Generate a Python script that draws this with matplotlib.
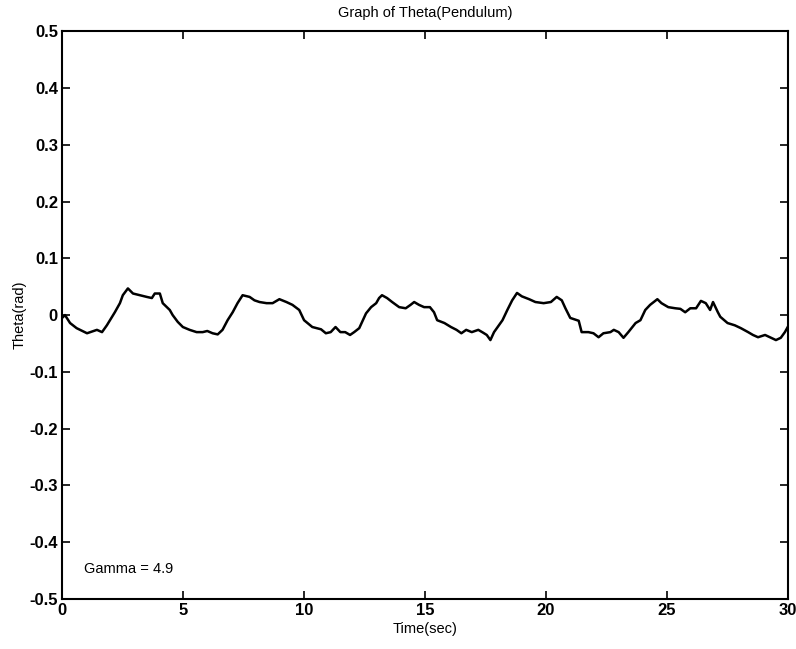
import numpy as np
import matplotlib
matplotlib.use('Agg')
import matplotlib.pyplot as plt

# values
t = [0.0, 0.12, 0.33, 0.6, 1.03, 1.44, 1.65, 1.85, 2.18, 2.39, 2.51, 2.72, 2.93,
     3.21, 3.5, 3.71, 3.83, 4.04, 4.16, 4.45, 4.57, 4.78, 4.99, 5.27, 5.56, 5.81,
     6.0, 6.22, 6.43, 6.63, 6.84, 7.05, 7.25, 7.46, 7.75, 7.95, 8.16, 8.45, 8.7,
     8.98, 9.27, 9.52, 9.8, 10.0, 10.14, 10.34, 10.7, 10.9, 11.1, 11.3, 11.5, 11.7,
     11.9, 12.07, 12.28, 12.56, 12.77, 12.98, 13.1, 13.22, 13.43, 13.64, 13.93,
     14.2, 14.4, 14.55, 14.75, 14.96, 15.2, 15.37, 15.5, 15.8, 16.07, 16.3, 16.5,
     16.7, 16.93, 17.2, 17.4, 17.55, 17.7, 17.85, 18.2, 18.4, 18.6, 18.8, 19.0,
     19.3, 19.56, 19.9, 20.2, 20.44, 20.65, 20.8, 21.0, 21.35, 21.47, 21.75, 21.96,
     22.17, 22.37, 22.66, 22.8, 23.0, 23.2, 23.4, 23.7, 23.9, 24.1, 24.3, 24.6,
     24.77, 25.05, 25.34, 25.55, 25.75, 25.96, 26.2, 26.4, 26.6, 26.78, 26.9, 27.1,
     27.2, 27.5, 27.8, 28.05, 28.35, 28.55, 28.76, 29.05, 29.3, 29.5, 29.7, 29.87, 30.0]
theta = [-0.005, 0.0, -0.014, -0.023, -0.032, -0.026, -0.03, -0.018, 0.005, 0.021,
         0.035, 0.047, 0.038, 0.035, 0.032, 0.03, 0.038, 0.038, 0.021, 0.009, 0.0,
         -0.012, -0.021, -0.026, -0.03, -0.03, -0.028, -0.032, -0.034, -0.026, -0.009,
         0.005, 0.021, 0.035, 0.032, 0.026, 0.023, 0.021, 0.021, 0.028, 0.023, 0.018,
         0.009, -0.009, -0.014, -0.021, -0.025, -0.032, -0.03, -0.021, -0.03, -0.03,
         -0.035, -0.03, -0.023, 0.003, 0.014, 0.021, 0.03, 0.035, 0.03, 0.023, 0.014,
         0.012, 0.018, 0.023, 0.018, 0.014, 0.014, 0.005, -0.009, -0.014, -0.021,
         -0.026, -0.032, -0.026, -0.03, -0.026, -0.031, -0.035, -0.044, -0.03, -0.009,
         0.009, 0.026, 0.039, 0.033, 0.028, 0.023, 0.021, 0.023, 0.032, 0.026, 0.012,
         -0.005, -0.01, -0.03, -0.03, -0.032, -0.039, -0.032, -0.03, -0.026, -0.03,
         -0.04, -0.03, -0.014, -0.009, 0.009, 0.018, 0.028, 0.021, 0.014, 0.012, 0.011,
         0.005, 0.012, 0.012, 0.025, 0.021, 0.009, 0.023, 0.005, -0.003, -0.014,
         -0.018, -0.023, -0.03, -0.035, -0.039, -0.035, -0.04, -0.044, -0.04, -0.03, -0.02]

plt.rcParams['font.family'] = ['Liberation Sans', 'DejaVu Sans']

fig = plt.figure(figsize=(7.96, 6.49), dpi=100)
ax = fig.add_axes([0.078, 0.077, 0.912, 0.875])

ax.plot(t, theta, color='black', linewidth=1.8)

ax.set_xlim(0, 30)
ax.set_ylim(-0.5, 0.5)
ax.set_xticks(np.arange(0, 31, 5))
ax.set_yticks(np.round(np.arange(-0.5, 0.51, 0.1), 1))
ax.set_yticklabels(['-0.5', '-0.4', '-0.3', '-0.2', '-0.1', '0',
                    '0.1', '0.2', '0.3', '0.4', '0.5'])
ax.tick_params(direction='in', length=6, width=1.2, top=True, right=True,
               labelsize=12, pad=3)
for lbl in ax.get_xticklabels() + ax.get_yticklabels():
    lbl.set_fontweight('bold')
for s in ax.spines.values():
    s.set_linewidth(1.5)

ax.set_title('Graph of Theta(Pendulum)', fontsize=10.5, pad=10)
ax.set_xlabel('Time(sec)', fontsize=10.5, labelpad=3)
ax.set_ylabel('Theta(rad)', fontsize=10.5, labelpad=2)
ax.text(0.9, -0.447, 'Gamma = 4.9', fontsize=10.5, va='center', ha='left')

fig.savefig('out.png', dpi=100)
